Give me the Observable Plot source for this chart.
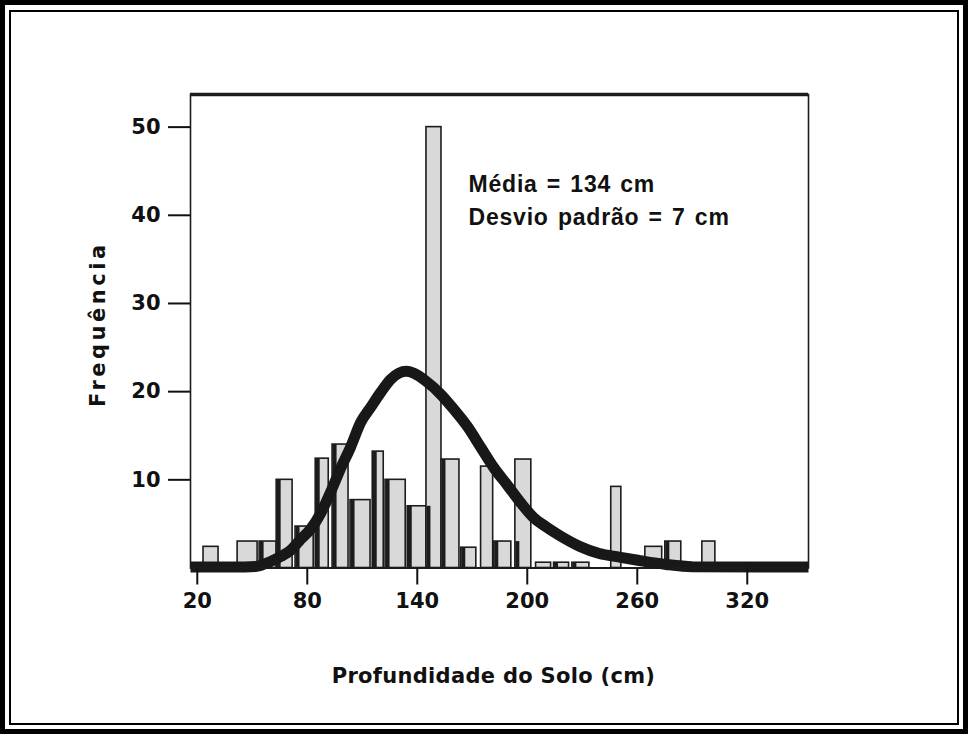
<!DOCTYPE html>
<html>
<head>
<meta charset="utf-8">
<script src="https://cdn.jsdelivr.net/npm/d3@7"></script>
<script src="https://cdn.jsdelivr.net/npm/@observablehq/plot@0.6"></script>
<style>
  html, body { margin: 0; padding: 0; background: #fff; }
  #wrap { position: relative; width: 968px; height: 734px; overflow: hidden; background: #fff; }
  #wrap svg { position: absolute; left: 0; top: 0; }
  .b1 { position: absolute; left: 0; top: 0; right: 0; bottom: 0; border: 5px solid #000; box-sizing: border-box; pointer-events: none; }
  .b2 { position: absolute; left: 9px; top: 10px; right: 9px; bottom: 9px; border: 2px solid #000; box-sizing: border-box; pointer-events: none; }
</style>
</head>
<body>
<div id="wrap"><div class="b1"></div><div class="b2"></div></div>
<script>
// Histogram bins (cm) and frequencies
const binStart = [23.4, 42.0, 54.0, 63.3, 73.6, 84.6, 93.8, 103.6, 115.7, 122.7, 134.8, 145.0, 153.2, 164.0, 174.8, 182.0, 193.5, 204.8, 214.6, 224.6, 245.8, 264.4, 275.3, 295.5];
const binEnd   = [31.6, 52.9, 63.3, 72.0, 83.5, 91.7, 102.5, 114.5, 121.7, 133.7, 145.0, 153.2, 163.0, 172.2, 181.4, 191.3, 202.2, 213.0, 222.8, 233.9, 251.3, 273.6, 284.0, 302.6];
const frequency = [2.4, 3.0, 3.0, 10.0, 4.7, 12.4, 14.0, 7.7, 13.2, 10.0, 7.0, 50.0, 12.3, 2.3, 11.5, 3.0, 12.3, 0.6, 0.6, 0.6, 9.2, 2.4, 3.0, 3.0];

// Fitted curve
const curveX = [16.3, 40, 51.8, 60, 65.5, 70.9, 75.7, 81.8, 87.3, 92.7, 98.2, 103.6, 109.1, 114.5, 120, 125.5, 130, 134, 138, 145, 152.8, 159.9, 167.5, 174.6, 181.7, 189.3, 196.4, 203.5, 210, 217.5, 228.4, 239.3, 250.2, 261.1, 275.8, 290, 353.4];
const curveY = [0.1, 0.1, 0.17, 0.74, 1.3, 2.0, 3.1, 4.4, 6.2, 8.6, 11.3, 13.7, 16.5, 18.2, 19.9, 21.4, 22.1, 22.3, 22.1, 21.15, 19.7, 18.0, 16.0, 13.7, 11.4, 9.35, 7.4, 5.7, 4.7, 3.7, 2.47, 1.64, 1.23, 0.85, 0.4, 0.15, 0.1];

const xTicks = [20, 80, 140, 200, 260, 320];
const yTicks = [10, 20, 30, 40, 50];
const xDomain = [16.3, 353.4];
const yDomain = [0, 53.7];

const xTitle = "Profundidade do Solo (cm)";
const yTitle = "Frequência";
const note = "Média = 134 cm\nDesvio padrão = 7 cm";

const bars = binStart.map((lo, i) => ({lo, hi: binEnd[i], f: frequency[i]}));
// dark left edge where a bar touches its neighbour (as in the original's shaded bar sides)
const edged = [];
bars.forEach((b, i) => {
  if (i === 0) return;
  const p = bars[i - 1];
  if (b.lo - p.hi < 2.5) edged.push({lo: b.lo, top: b.f > 2 * p.f + 5 ? p.f : b.f});
});
const curve = curveX.map((x, i) => ({x, y: curveY[i]}));

const ink = "#1c1c1c";

const svg = Plot.plot({
  width: 968,
  height: 734,
  marginLeft: 190,
  marginRight: 160,
  marginTop: 94,
  marginBottom: 166.5,
  x: {domain: xDomain},
  y: {domain: yDomain},
  style: {fontFamily: "'DejaVu Sans', sans-serif", fontSize: "21px", fontWeight: "bold", color: "#111", background: "transparent", overflow: "visible"},
  marks: [
    Plot.rectY(bars, {x1: "lo", x2: "hi", y1: 0, y2: "f", fill: "#d9d9d9", stroke: ink, strokeWidth: 1.6}),
    Plot.ruleX(edged, {x: "lo", y1: 0, y2: "top", stroke: ink, strokeWidth: 4, dx: 2}),
    Plot.ruleY([yDomain[0]], {stroke: ink, strokeWidth: 2}),
    Plot.line(curve, {x: "x", y: "y", stroke: "#181818", strokeWidth: 11, curve: "monotone-x", strokeLinecap: "butt", strokeLinejoin: "miter"}),
    Plot.frame({stroke: ink, strokeWidth: 1.6}),
    Plot.ruleY([yDomain[1]], {stroke: ink, strokeWidth: 3.5}),
    Plot.axisY({ticks: yTicks, tickSize: 22, tickPadding: 8, strokeWidth: 2, fontSize: 21, color: "#111", label: null}),
    Plot.axisX({ticks: xTicks, tickSize: 17, tickPadding: 8.5, strokeWidth: 2, fontSize: 21, color: "#111", label: null}),
    Plot.text([xTitle], {frameAnchor: "bottom", dx: -6, dy: 108, textAnchor: "middle", lineAnchor: "middle", fontSize: 21, fill: "#111"}),
    Plot.text([yTitle], {frameAnchor: "left", rotate: -90, dx: -92, dy: -7, textAnchor: "middle", lineAnchor: "middle", fontSize: 21, fill: "#111"}),
    Plot.text([note], {frameAnchor: "top-left", dx: 278, dy: 75, textAnchor: "start", lineAnchor: "top", lineHeight: 1.4, fontSize: 23, fontFamily: "'Liberation Sans', Arial, sans-serif", fill: "#111"})
  ]
});

document.getElementById("wrap").prepend(svg);

d3.select(svg).selectAll("text").each(function() {
  const t = d3.select(this).text();
  if (t === yTitle) d3.select(this).style("letter-spacing", "3.5px");
  if (t === xTitle) d3.select(this).style("letter-spacing", "0.3px");
});
d3.select(svg).selectAll("tspan").style("letter-spacing", "0.8px").style("word-spacing", "2px");
</script>
</body>
</html>
